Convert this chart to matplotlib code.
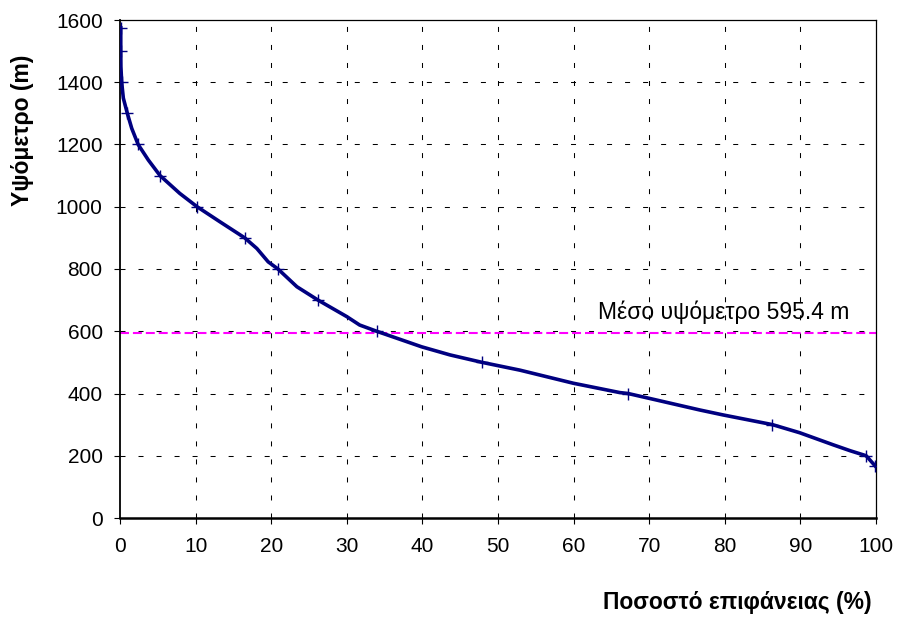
import matplotlib
matplotlib.use("Agg")
import matplotlib.pyplot as plt

# hypsometric curve
pct = [0.1, 0.1, 0.12, 0.22, 0.44, 0.97, 1.55, 2.4, 3.75, 5.3, 7.9, 10.2, 13.2,
       16.5, 18.1, 19.6, 20.9, 23.4, 26.2, 30.0, 31.7, 33.95, 39.9, 43.65, 47.9,
       52.9, 59.96, 66.1, 67.2, 69.9, 76.7, 79.8, 86.3, 89.9, 94.35, 96.6, 98.7,
       99.9]
elev = [1575, 1500, 1450, 1400, 1349, 1300, 1252, 1200, 1150, 1100, 1043, 1000,
        952, 900, 866, 823, 800, 743, 700, 647, 620, 600, 550, 524, 500, 475,
        433, 403, 400, 385, 347, 331, 300, 274, 235, 216, 200, 167]
marked = [0, 1, 3, 5, 7, 9, 11, 13, 16, 18, 21, 24, 28, 32, 36, 37]
mean_elev = 595.4
mean_label = "Μέσο υψόμετρο 595.4 m"
xticks = list(range(0, 101, 10))
yticks = list(range(0, 1601, 200))

plt.rcParams['font.family'] = ['Liberation Sans', 'DejaVu Sans']

fig = plt.figure(figsize=(8.99, 6.19), dpi=100)
ax = fig.add_axes([120/899, 101/619, 756/899, 498/619])

grid_ls = (0, (4.8, 12.5))
for x in xticks[1:-1]:
    ax.axvline(x, color='black', lw=0.75, ls=grid_ls, zorder=1)
for y in yticks[1:-1]:
    ax.axhline(y, color='black', lw=0.75, ls=grid_ls, zorder=1)

ax.axhline(mean_elev, color='#FF00FF', lw=1.5, ls=(0, (4.3, 1.9)), zorder=2)
ax.text(96.5, mean_elev + 27, mean_label, ha='right', va='bottom', fontsize=16.5)

ax.plot(pct, elev, color='#000080', lw=2.6, marker='+', ms=8, mew=1,
        markevery=marked, zorder=3, solid_joinstyle='round')

ax.set_xlim(0, 100)
ax.set_ylim(0, 1600)
ax.set_xticks(xticks)
ax.set_yticks(yticks)
ax.tick_params(direction='out', length=4.5, width=0.8, labelsize=15)
ax.tick_params(axis='y', pad=8)
ax.tick_params(axis='x', pad=9)
for s in ax.spines.values():
    s.set_linewidth(0.9)
ax.spines['left'].set_linewidth(1.3)
ax.spines['bottom'].set_linewidth(1.8)

fig.text(23/899, 1 - 130/619, "Υψόμετρο (m)", rotation=90, ha='center',
         va='center', fontsize=16.5, fontweight='bold')
fig.text(872/899, 1 - 603/619, "Ποσοστό επιφάνειας (%)", ha='right',
         va='center', fontsize=16.5, fontweight='bold')

fig.savefig("out.png", dpi=100)
